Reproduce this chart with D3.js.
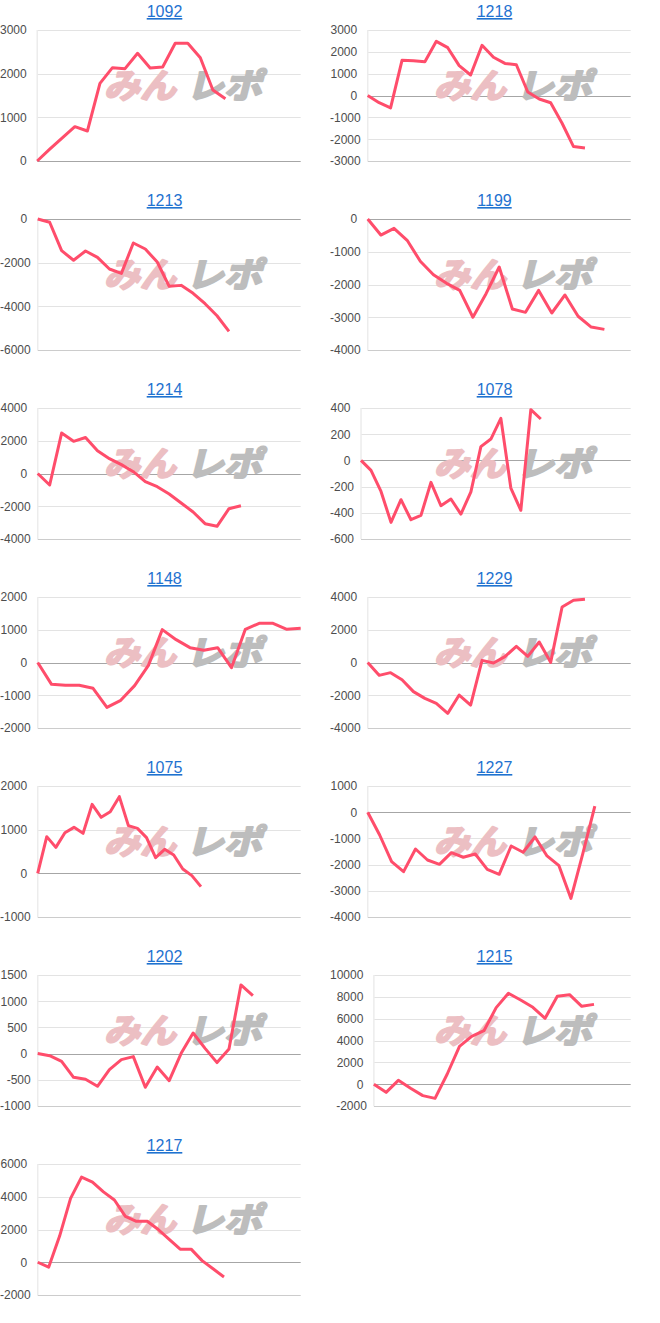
<!DOCTYPE html>
<html>
<head>
<meta charset="utf-8">
<script src="https://cdn.jsdelivr.net/npm/d3@7"></script>
<style>
  html, body { margin: 0; padding: 0; background: #fff; }
  svg { display: block; }
</style>
</head>
<body>
<svg id="chart" width="660" height="1323"></svg>
<script>
// ---- data ----
const titles = ["1092","1218","1213","1199","1214","1078","1148","1229","1075","1227","1202","1215","1217"];

const v1092 = [0, 270, 530, 786, 687, 1779, 2137, 2115, 2466, 2130, 2153, 2695, 2695, 2366, 1626, 1427];
const v1218 = [0, -330, -570, 1610, 1595, 1550, 2480, 2190, 1370, 940, 2300, 1750, 1470, 1410, 160, -160, -330, -1270, -2340, -2400];
const v1213 = [0, -150, -1450, -1890, -1465, -1755, -2290, -2490, -1100, -1375, -1970, -3085, -3040, -3405, -3880, -4430, -5145];
const v1199 = [0, -490, -285, -650, -1290, -1700, -1965, -2180, -3000, -2280, -1465, -2750, -2850, -2180, -2870, -2320, -2970, -3300, -3370];
const v1214 = [0, -700, 2470, 1965, 2200, 1395, 905, 540, 110, -500, -805, -1250, -1800, -2350, -3065, -3225, -2150, -1965];
const v1078 = [0, -76, -237, -473, -300, -453, -420, -168, -346, -295, -410, -240, 105, 163, 321, -211, -381, 387, 316];
const v1148 = [0, -667, -697, -697, -789, -1369, -1155, -707, -87, 1003, 697, 453, 372, 453, -158, 1013, 1196, 1196, 1013, 1043];
const v1229 = [0, -785, -620, -1050, -1780, -2190, -2495, -3105, -1985, -2600, 130, -30, 355, 990, 375, 1250, 10, 3390, 3800, 3860];
const v1075 = [0, 840, 595, 930, 1053, 916, 1580, 1282, 1412, 1756, 1092, 1030, 817, 359, 550, 420, 99, -53, -305];
const v1227 = [0, -870, -1890, -2270, -1405, -1825, -1990, -1545, -1720, -1595, -2180, -2370, -1290, -1530, -945, -1670, -2040, -3290, -1570, 235];
const v1202 = [0, -40, -147, -452, -490, -624, -306, -115, -57, -643, -255, -516, 5, 393, 100, -172, 88, 1310, 1105];
const v1215 = [0, -750, 350, -380, -1050, -1300, 930, 3465, 4380, 4900, 7010, 8320, 7710, 7040, 6030, 8050, 8200, 7130, 7310];
const v1217 = [0, -300, 1600, 3900, 5200, 4900, 4300, 3800, 2800, 2500, 2500, 2000, 1400, 800, 800, 100, -400, -900];

const series = [v1092, v1218, v1213, v1199, v1214, v1078, v1148, v1229, v1075, v1227, v1202, v1215, v1217];

// y tick labels per chart
const t1092 = [0, 1000, 2000, 3000];
const t1218 = [-3000, -2000, -1000, 0, 1000, 2000, 3000];
const t1213 = [-6000, -4000, -2000, 0];
const t1199 = [-4000, -3000, -2000, -1000, 0];
const t1214 = [-4000, -2000, 0, 2000, 4000];
const t1078 = [-600, -400, -200, 0, 200, 400];
const t1148 = [-2000, -1000, 0, 1000, 2000];
const t1229 = [-4000, -2000, 0, 2000, 4000];
const t1075 = [-1000, 0, 1000, 2000];
const t1227 = [-4000, -3000, -2000, -1000, 0, 1000];
const t1202 = [-1000, -500, 0, 500, 1000, 1500];
const t1215 = [-2000, 0, 2000, 4000, 6000, 8000, 10000];
const t1217 = [-2000, 0, 2000, 4000, 6000];

const ticks = [t1092, t1218, t1213, t1199, t1214, t1078, t1148, t1229, t1075, t1227, t1202, t1215, t1217];

// number of day slots on each x axis
const xSlots = [22, 24, 23, 21, 23, 28, 20, 24, 30, 23, 23, 22, 25];

const watermarkA = "みん";
const watermarkB = "レポ";

// ---- drawing ----
const svg = d3.select("#chart");
const LINE = "#ff4d6b";
const FONT = "Arial, 'Liberation Sans', sans-serif";

// measure helper
const meas = svg.append("text").attr("font-family", FONT).attr("font-size", 12).attr("visibility", "hidden");
function textW(s) { meas.text(s); return meas.node().getComputedTextLength(); }

titles.forEach((title, k) => {
  const col = k % 2, row = Math.floor(k / 2);
  const ox = col * 330;
  const top = 30 + row * 189;
  const bottom = top + 131;
  const tk = ticks[k];
  const labels = tk.map(d => String(d));
  const maxW = d3.max(labels, s => textW(s) - (s.startsWith("-") ? 3.5 : 0));
  const left = ox + 10.5 + maxW;
  const right = ox + 300.7;

  const g = svg.append("g");

  const x = d3.scaleLinear().domain([0, xSlots[k] - 1]).range([left, right]);
  const y = d3.scaleLinear().domain(d3.extent(tk)).range([bottom, top]);

  // title
  g.append("text")
    .attr("x", ox + 164.5).attr("y", top - 13)
    .attr("text-anchor", "middle")
    .attr("font-family", FONT).attr("font-size", 16)
    .attr("fill", "#1f72d0")
    .attr("text-decoration", "underline")
    .text(title);

  // gridlines
  g.selectAll("line.grid").data(tk).enter().append("line")
    .attr("x1", left).attr("x2", right)
    .attr("y1", d => Math.round(y(d)) + 0.5).attr("y2", d => Math.round(y(d)) + 0.5)
    .attr("stroke", d => d === 0 ? "#a6a6a6" : (d === tk[0] ? "#cccccc" : "#e3e3e3"))
    .attr("stroke-width", 1);

  // left vertical axis line
  g.append("line")
    .attr("x1", left).attr("x2", left)
    .attr("y1", top).attr("y2", bottom)
    .attr("stroke", "#ececec").attr("stroke-width", 1.5);

  // y axis labels through d3 axis
  const axis = d3.axisLeft(y).tickValues(tk).tickSize(0).tickPadding(10.5).tickFormat(d => String(d));
  const ag = g.append("g").attr("transform", `translate(${left},0)`).call(axis);
  ag.select(".domain").remove();
  ag.selectAll("text")
    .attr("font-family", FONT).attr("font-size", 12).attr("fill", "#4d4d4d")
    .attr("dx", d => d < 0 ? 3.5 : 0);

  // watermark
  const wy = top + 68;
  const wm = g.append("g");
  wm.append("text")
    .attr("transform", `translate(${ox + 104},${wy}) skewX(-14)`)
    .attr("font-family", "'Noto Sans CJK JP', sans-serif").attr("font-weight", 700)
    .attr("font-size", 34).attr("fill", "#ecbfc3")
    .attr("stroke", "#ecbfc3").attr("stroke-width", 2.2).attr("stroke-linejoin", "round")
    .attr("textLength", 72).attr("lengthAdjust", "spacingAndGlyphs")
    .text(watermarkA);
  wm.append("text")
    .attr("transform", `translate(${ox + 186},${wy}) skewX(-14)`)
    .attr("font-family", "'Noto Sans CJK JP', sans-serif").attr("font-weight", 700)
    .attr("font-size", 34).attr("fill", "#bdbdbd")
    .attr("stroke", "#bdbdbd").attr("stroke-width", 2.2).attr("stroke-linejoin", "round")
    .attr("textLength", 76).attr("lengthAdjust", "spacingAndGlyphs")
    .text(watermarkB);

  // data line
  const line = d3.line().x((d, i) => x(i)).y(d => y(d));
  g.append("path")
    .datum(series[k])
    .attr("d", line)
    .attr("fill", "none")
    .attr("stroke", LINE)
    .attr("stroke-width", 3)
    .attr("stroke-linejoin", "round");
});
meas.remove();
</script>
</body>
</html>
